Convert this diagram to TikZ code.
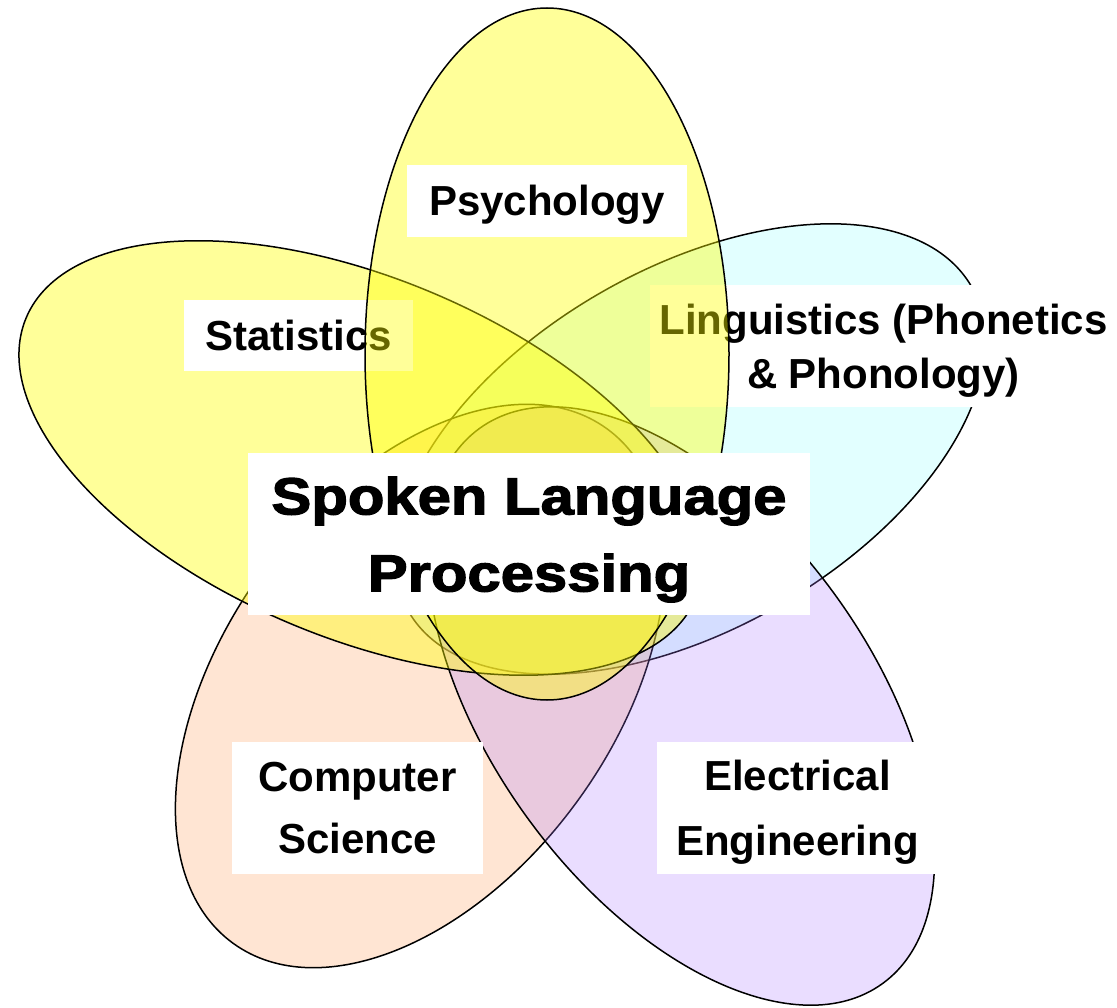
\documentclass[tikz,border=0pt]{standalone}
\usepackage{fontspec}
\setmainfont{Liberation Sans}
\newfontfamily\heavyfont{Liberation Sans Bold}[FakeStretch=1.15,FakeBold=2.5]
\definecolor{yelc}{RGB}{255,255,0}
\definecolor{lingc}{RGB}{160,255,255}
\definecolor{csc}{RGB}{255,170,110}
\definecolor{eec}{RGB}{170,120,255}
\begin{document}
\begin{tikzpicture}[x=1pt,y=1pt,
  petal/.style={draw=black, line width=1.5pt, fill=#1},
  lbl/.style={fill=white, inner sep=0pt, align=center, text=black,
    font=\bfseries\fontsize{42}{62}\selectfont},
  biglbl/.style={fill=white, inner sep=0pt, align=center, text=black,
    font=\heavyfont\fontsize{52}{77}\selectfont}]
\useasboundingbox (0,0) rectangle (1117,-1008);
% Linguistics petal
\path[petal=lingc, fill opacity=0.3, rotate around={30:(690,-449)}]
  (690,-449) ellipse [x radius=325pt, y radius=180pt];
\node[lbl, minimum width=467pt, minimum height=122pt, font=\bfseries\fontsize{42}{54}\selectfont] (ling) at (883.5,-346)
  {Linguistics (Phonetics\\\smash{\& Phonology)}};
% Computer Science petal
\path[petal=csc, fill opacity=0.3, rotate around={54:(420,-686)}]
  (420,-686) ellipse [x radius=318pt, y radius=195pt];
% Electrical Engineering petal
\path[petal=eec, fill opacity=0.25, rotate around={-54:(681,-706)}]
  (681,-706) ellipse [x radius=343pt, y radius=190pt];
\node[lbl, minimum width=251pt, minimum height=132pt] (cs) at (357.5,-808)
  {Computer\\Science};
\node[lbl, minimum width=281pt, minimum height=132pt, font=\bfseries\fontsize{42}{65}\selectfont] (ee) at (797.5,-808)
  {Electrical\\\smash{Engineering}};
% Statistics petal
\path[petal=yelc, fill opacity=0.4, rotate around={-22.7:(361,-458)}]
  (361,-458) ellipse [x radius=363pt, y radius=180pt];
\node[lbl, minimum width=229pt, minimum height=71pt, text height=30pt, text depth=0pt] (stat) at (298.5,-335.5)
  {Statistics};
% Psychology petal
\path[petal=yelc, fill opacity=0.4]
  (547,-354) ellipse [x radius=182pt, y radius=346pt];
\node[lbl, minimum width=280pt, minimum height=72pt, text height=30pt, text depth=0pt] (psy) at (547,-201)
  {Psychology};
% centre
\node[biglbl, minimum width=562pt, minimum height=162pt] (slp) at (529,-534)
  {Spoken Language\\\smash{Processing}};
\end{tikzpicture}
\end{document}
